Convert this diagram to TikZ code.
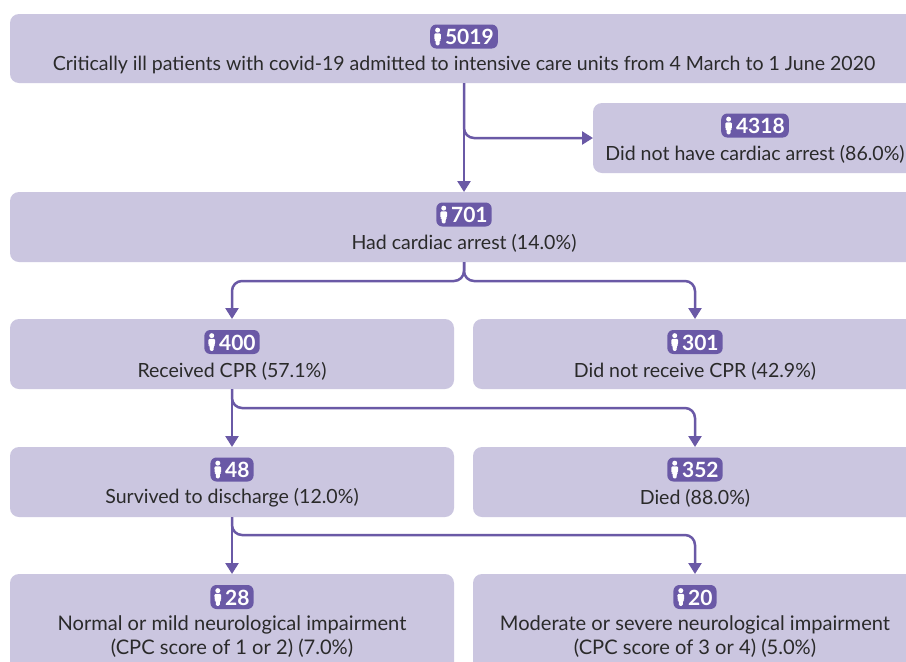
\documentclass[tikz,border=0pt]{standalone}
\usepackage{fontspec}
\setmainfont{Lato}
\usetikzlibrary{arrows.meta,positioning}
\definecolor{boxfill}{HTML}{CBC6E0}
\definecolor{accent}{HTML}{6A59A6}
\definecolor{ink}{HTML}{2A2A2A}
\newcommand{\personicon}{\tikz[x=1pt,y=1pt,baseline=0pt]{%
  \fill[white] (3.5,14.6) circle (2.5);
  \fill[white,rounded corners=1.2pt] (0.1,11.4) -- (6.9,11.4) -- (6.7,4.8) -- (5.6,4.8) -- (5.4,-0.6) -- (1.6,-0.6) -- (1.4,4.8) -- (0.3,4.8) -- cycle;}}
\tikzset{
  flowbox/.style={fill=boxfill,rounded corners=9pt,anchor=north west,inner sep=0pt,outer sep=0pt},
  badge/.style={fill=accent,text=white,rounded corners=6pt,inner xsep=4pt,inner ysep=0pt,minimum height=24pt,font=\fontsize{21}{21}\selectfont\bfseries},
  caption/.style={text=ink,align=center,inner sep=0pt,font=\fontsize{19.55}{24.5}\selectfont},
  widecaption/.style={caption,font=\fontsize{20.1}{24.5}\selectfont},
  link/.style={draw=accent,line width=2.5pt,rounded corners=10pt},
  tip/.style={-{Triangle[length=11pt,width=13pt]}}
}
\begin{document}
\begin{tikzpicture}[x=1pt,y=-1pt]
\useasboundingbox (0,0) rectangle (906,662);
\clip (0,0) rectangle (906,662);
\fill[white] (0,0) rectangle (906,662);
% boxes
\node[flowbox,minimum width=908pt,minimum height=69pt] (A) at (10,14) {};
\node[flowbox,minimum width=324pt,minimum height=70pt] (B) at (593,103) {};
\node[flowbox,minimum width=908pt,minimum height=70pt] (C) at (10,192) {};
\node[flowbox,minimum width=444pt,minimum height=70pt] (D) at (10,319) {};
\node[flowbox,minimum width=444pt,minimum height=70pt] (E) at (473,319) {};
\node[flowbox,minimum width=444pt,minimum height=70pt] (F) at (10,447) {};
\node[flowbox,minimum width=444pt,minimum height=70pt] (G) at (473,447) {};
\node[flowbox,minimum width=444pt,minimum height=110pt] (H) at (10,574) {};
\node[flowbox,minimum width=444pt,minimum height=110pt] (I) at (473,574) {};
% badges and captions
\node[badge] (bA) at (464,36.5) {\personicon\kern4pt 5019};
\node[caption] (tA) at (464,65) {Critically ill patients with covid-19 admitted to intensive care units from 4 March to 1 June 2020};
\node[badge] (bB) at (755,125.5) {\personicon\kern4pt 4318};
\node[caption] (tB) at (755,154) {Did not have cardiac arrest (86.0\%)};
\node[badge] (bC) at (464,214.5) {\personicon\kern4pt 701};
\node[caption] (tC) at (464,243) {Had cardiac arrest (14.0\%)};
\node[badge] (bD) at (232,342) {\personicon\kern4pt 400};
\node[caption] (tD) at (232,371) {Received CPR (57.1\%)};
\node[badge] (bE) at (695,342) {\personicon\kern4pt 301};
\node[caption] (tE) at (695,371) {Did not receive CPR (42.9\%)};
\node[badge] (bF) at (232,469.5) {\personicon\kern4pt 48};
\node[caption] (tF) at (232,498) {Survived to discharge (12.0\%)};
\node[badge] (bG) at (695,469.5) {\personicon\kern4pt 352};
\node[caption] (tG) at (695,498) {Died (88.0\%)};
\node[badge] (bH) at (232,597) {\personicon\kern4pt 28};
\node[widecaption,anchor=north] (tH) at (232,615) {Normal or mild neurological impairment\\(CPC score of 1 or 2) (7.0\%)};
\node[badge] (bI) at (695,597) {\personicon\kern4pt 20};
\node[widecaption,anchor=north] (tI) at (695,615) {Moderate or severe neurological impairment\\(CPC score of 3 or 4) (5.0\%)};
% connectors
\draw[link,tip] (A.south) -- (C.north);
\draw[link,tip] (A.south) |- (B.west);
\draw[link,tip] (C.south) -- ++(0,19) -| (D.north);
\draw[link,tip] (C.south) -- ++(0,19) -| (E.north);
\draw[link,tip] (D.south) -- (F.north);
\draw[link,tip] (D.south) -- ++(0,19) -| (G.north);
\draw[link,tip] (F.south) -- (H.north);
\draw[link,tip] (F.south) -- ++(0,18) -| (I.north);
\end{tikzpicture}
\end{document}
